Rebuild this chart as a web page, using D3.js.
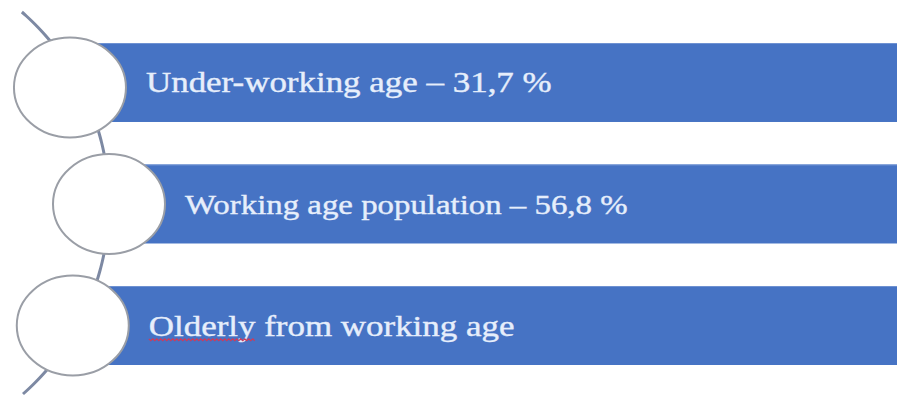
<!DOCTYPE html>
<html>
<head>
<meta charset="utf-8">
<script src="https://cdn.jsdelivr.net/npm/d3@7"></script>
<style>
  html, body { margin: 0; padding: 0; background: #fff; }
  #chart { width: 897px; height: 397px; }
</style>
</head>
<body>
<div id="chart"></div>
<script>
(function() {
    const width = 897;
    const height = 397;

    // groups and their shares
    const categories = ["Under-working age", "Working age population", "Olderly from working age"];
    const shares = [31.7, 56.8, null];
    const misspelled = ["", "", "Olderly"];   // word underlined by the spell checker

    const svg = d3.select("#chart")
        .append("svg")
        .attr("width", width)
        .attr("height", height);

    const y = d3.scaleBand()
        .domain(categories)
        .range([43, 365])
        .paddingInner(0.35)
        .paddingOuter(0);

    // big arc the circles hang on
    const arcCx = -145, arcCy = 203.5, arcR = 254;
    const arcX = yy => arcCx + Math.sqrt(arcR * arcR - (yy - arcCy) * (yy - arcCy));

    const rx = 56, ry = 50;
    const nudge = [-11, 0, -5];        // circles sit a bit left of the arc at the ends
    const fontSizes = [30, 28.2, 30];  // middle label was shrunk to fit

    const rows = categories.map((c, i) => {
        const cy = y(c) + y.bandwidth() / 2 + (i === 0 ? 5 : 0);
        return {
            name: c,
            value: shares[i],
            bad: misspelled[i],
            fs: fontSizes[i],
            cy: cy,
            barY: y(c),
            cx: arcX(cy) + nudge[i]
        };
    });

    // bars
    svg.append("g")
        .selectAll("rect")
        .data(rows)
        .enter().append("rect")
        .attr("x", d => d.cx)
        .attr("y", d => d.barY)
        .attr("width", d => width - d.cx)
        .attr("height", y.bandwidth())
        .attr("fill", "#4673c4");

    // thin light edge on top of each bar
    svg.append("g")
        .selectAll("line")
        .data(rows)
        .enter().append("line")
        .attr("x1", d => d.cx)
        .attr("x2", width)
        .attr("y1", d => d.barY + 0.5)
        .attr("y2", d => d.barY + 0.5)
        .attr("stroke", "#6f92d2")
        .attr("stroke-width", 1);

    // arc line
    const arcPts = d3.range(12, 396, 2).map(yy => [arcX(yy), yy]);
    svg.append("path")
        .attr("d", d3.line()(arcPts))
        .attr("fill", "none")
        .attr("stroke", "#7d89a3")
        .attr("stroke-width", 3);

    // circles
    svg.append("g")
        .selectAll("ellipse")
        .data(rows)
        .enter().append("ellipse")
        .attr("cx", d => d.cx)
        .attr("cy", d => d.cy)
        .attr("rx", rx)
        .attr("ry", ry)
        .attr("fill", "#fff")
        .attr("stroke", "#9a9ea6")
        .attr("stroke-width", 2);

    const fmt = v => v == null ? "" : " \u2013 " + String(v).replace(".", ",") + " %";
    const sx = 1.165;
    const textX = d => d.cx + rx + 20;
    const textY = d => y(d.name) + y.bandwidth() / 2 + 10;

    const labels = svg.append("g")
        .selectAll("text")
        .data(rows)
        .enter().append("text")
        .attr("transform", d => `translate(${textX(d)},${textY(d)}) scale(${sx},1)`)
        .attr("font-family", "'Liberation Serif', 'Times New Roman', serif")
        .attr("font-size", d => d.fs)
        .attr("fill", "#e6eefb")
        .attr("stroke", "#e6eefb")
        .attr("stroke-width", 0.4)
        .text(d => d.name + fmt(d.value));

    // red squiggle under the misspelled word
    labels.each(function(d) {
        if (!d.bad) return;
        const w = this.getSubStringLength(0, d.bad.length) * sx;
        const x0 = textX(d);
        const y0 = textY(d) + 4;
        const pts = d3.range(0, Math.floor(w / 2) + 1).map(k => [x0 + k * 2, y0 + (k % 2 ? 1.2 : -0.6)]);
        svg.append("path")
            .attr("d", d3.line()(pts))
            .attr("fill", "none")
            .attr("stroke", "#cc3b5c")
            .attr("stroke-width", 1.2);
    });
})();
</script>
</body>
</html>
